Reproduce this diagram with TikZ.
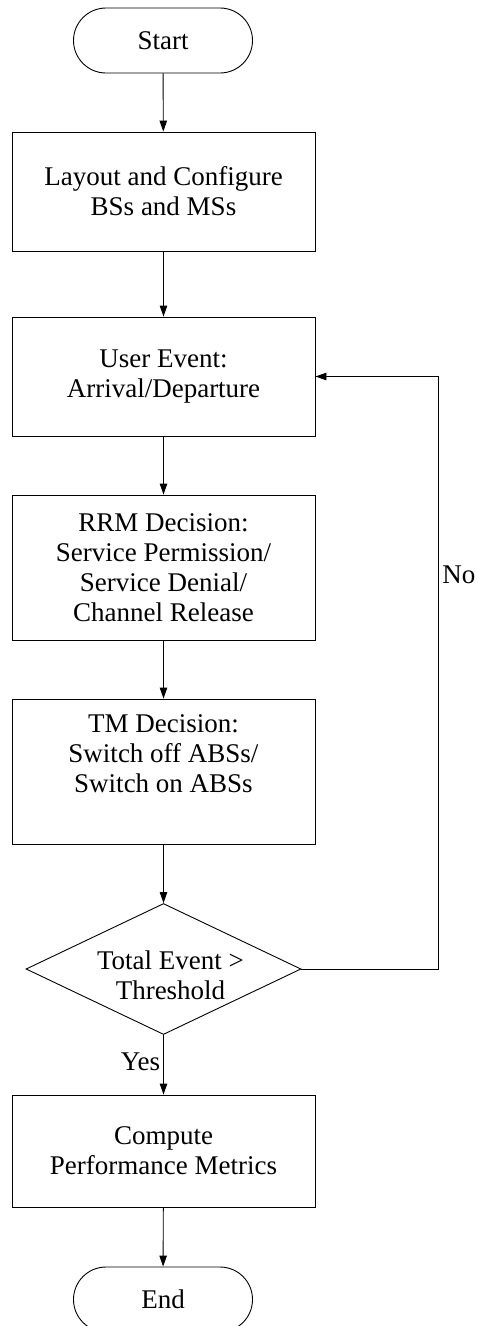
\documentclass[tikz,border=0pt]{standalone}
\usepackage{fontspec}
\setmainfont{Liberation Serif}
\usetikzlibrary{shapes.misc,shapes.geometric,arrows.meta}
\begin{document}
\begin{tikzpicture}[x=1pt,y=-1pt,
  every node/.style={font=\fontsize{27}{30}\selectfont, align=center},
  term/.style={draw, rounded rectangle, minimum width=179pt, minimum height=65pt, inner sep=0pt, line width=0.9pt},
  procbox/.style={draw, rectangle, minimum width=303pt, inner sep=0pt, line width=0.9pt},
  decision/.style={draw, diamond, minimum width=275pt, minimum height=131pt, inner sep=0pt, line width=0.9pt},
  flow/.style={-{Triangle[length=11pt,width=7.5pt]}, line width=0.9pt}]
  \useasboundingbox (0,0) rectangle (478,1326);

  % flowchart steps
  \node[term] (start) at (163,40.5) {Start};
  \node[procbox, minimum height=119pt] (layout) at (163.5,191.5) {Layout and Configure\\BSs and MSs};
  \node[procbox, minimum height=119pt] (event) at (163.5,376.5) {User Event:\\Arrival/Departure};
  \node[procbox, minimum height=145pt] (rrm) at (163.5,567.5) {RRM Decision:\\Service Permission/\\Service Denial/\\Channel Release};
  \node[procbox, minimum height=145pt] (tm) at (163.5,771.5) {TM Decision:\\Switch off ABSs/\\Switch on ABSs\\[6pt]};
  \node[decision] (check) at (163.5,969) {};
  \node[inner sep=0pt] (checktext) at (170.5,975) {Total Event >\\Threshold};
  \node[procbox, minimum height=112pt] (metrics) at (163.5,1151) {Compute\\Performance Metrics};
  \node[term] (stop) at (163,1299.5) {End};

  % connectors
  \draw[flow] (start) -- (layout);
  \draw[flow] (layout) -- (event);
  \draw[flow] (event) -- (rrm);
  \draw[flow] (rrm) -- (tm);
  \draw[flow] (tm) -- (check.north);
  \draw[flow] (check.south) -- node[pos=0.45, left, inner sep=3pt] {Yes} (metrics);
  \draw[flow] (metrics) -- (stop);

  % loop back when the threshold is not reached
  \coordinate (loopcorner) at (438,969);
  \draw[flow] (check.east) -- (loopcorner) |- node[pos=0.333, right, inner sep=4pt] {No} (event.east);
\end{tikzpicture}
\end{document}
